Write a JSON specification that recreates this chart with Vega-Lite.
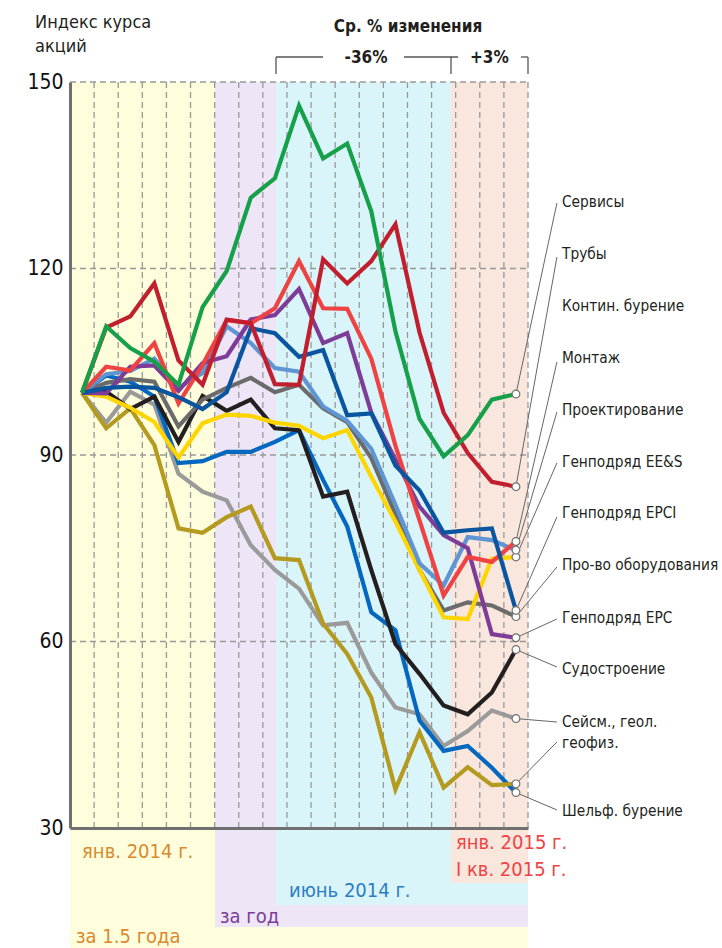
{
  "$schema": "https://vega.github.io/schema/vega-lite/v6.json",
  "width": 458,
  "height": 746,
  "autosize": {"type": "none"},
  "padding": {"left": 70, "top": 82, "right": 194, "bottom": 120},
  "background": "white",
  "config": {
    "view": {"stroke": null},
    "font": "DejaVu Sans Condensed, Liberation Sans Narrow, DejaVu Sans, sans-serif",
    "text": {"font": "DejaVu Sans Condensed, Liberation Sans Narrow, DejaVu Sans, sans-serif"},
    "axisX": {"labels": false, "ticks": false, "grid": false, "domain": true, "domainColor": "#707070", "domainWidth": 3, "zindex": 1},
    "axisY": {"grid": false, "ticks": false, "labelFontSize": 21, "labelColor": "#111111", "labelPadding": 7, "labelFont": "DejaVu Sans Condensed, DejaVu Sans, sans-serif", "domain": true, "domainColor": "#707070", "domainWidth": 3, "zindex": 1}
  },
  "resolve": {"scale": {"color": "independent", "fill": "independent"}},
  "datasets": {
    "bands": [
      {"b": "y", "x": -0.5, "x2": 18.5, "y": 5, "y2": 150},
      {"b": "p", "x": 5.515, "x2": 18.5, "y": 14.08, "y2": 150},
      {"b": "c", "x": 8.05, "x2": 18.5, "y": 17.62, "y2": 150},
      {"b": "k", "x": 15.3, "x2": 18.5, "y": 21.16, "y2": 150}
    ],
    "gridx": [{"g": 0.5}, {"g": 1.5}, {"g": 2.5}, {"g": 3.5}, {"g": 4.5}, {"g": 5.5}, {"g": 6.5}, {"g": 7.5}, {"g": 8.5}, {"g": 9.5}, {"g": 10.5}, {"g": 11.5}, {"g": 12.5}, {"g": 13.5}, {"g": 14.5}, {"g": 15.5}, {"g": 16.5}, {"g": 17.5}, {"g": 18.5}],
    "gridy": [{"g": 60}, {"g": 90}, {"g": 120}, {"g": 150}],
    "series": [
      {"s": "Сейсм., геол. геофиз.", "i": 0, "v": 100}, {"s": "Сейсм., геол. геофиз.", "i": 1, "v": 95.2}, {"s": "Сейсм., геол. геофиз.", "i": 2, "v": 100.2}, {"s": "Сейсм., геол. геофиз.", "i": 3, "v": 98.1}, {"s": "Сейсм., геол. геофиз.", "i": 4, "v": 87.0}, {"s": "Сейсм., геол. геофиз.", "i": 5, "v": 84.1}, {"s": "Сейсм., геол. геофиз.", "i": 6, "v": 82.7}, {"s": "Сейсм., геол. геофиз.", "i": 7, "v": 75.5}, {"s": "Сейсм., геол. геофиз.", "i": 8, "v": 71.5}, {"s": "Сейсм., геол. геофиз.", "i": 9, "v": 68.5}, {"s": "Сейсм., геол. геофиз.", "i": 10, "v": 62.6}, {"s": "Сейсм., геол. геофиз.", "i": 11, "v": 63.0}, {"s": "Сейсм., геол. геофиз.", "i": 12, "v": 55.0}, {"s": "Сейсм., геол. геофиз.", "i": 13, "v": 49.4}, {"s": "Сейсм., геол. геофиз.", "i": 14, "v": 48.3}, {"s": "Сейсм., геол. геофиз.", "i": 15, "v": 43.2}, {"s": "Сейсм., геол. геофиз.", "i": 16, "v": 45.6}, {"s": "Сейсм., геол. геофиз.", "i": 17, "v": 48.9}, {"s": "Сейсм., геол. геофиз.", "i": 18, "v": 47.6},
      {"s": "Шельф. бурение", "i": 0, "v": 100}, {"s": "Шельф. бурение", "i": 1, "v": 102.8}, {"s": "Шельф. бурение", "i": 2, "v": 101.8}, {"s": "Шельф. бурение", "i": 3, "v": 99.4}, {"s": "Шельф. бурение", "i": 4, "v": 88.7}, {"s": "Шельф. бурение", "i": 5, "v": 89.0}, {"s": "Шельф. бурение", "i": 6, "v": 90.5}, {"s": "Шельф. бурение", "i": 7, "v": 90.5}, {"s": "Шельф. бурение", "i": 8, "v": 92.1}, {"s": "Шельф. бурение", "i": 9, "v": 94.0}, {"s": "Шельф. бурение", "i": 10, "v": 86.0}, {"s": "Шельф. бурение", "i": 11, "v": 78.5}, {"s": "Шельф. бурение", "i": 12, "v": 64.7}, {"s": "Шельф. бурение", "i": 13, "v": 61.8}, {"s": "Шельф. бурение", "i": 14, "v": 47.3}, {"s": "Шельф. бурение", "i": 15, "v": 42.4}, {"s": "Шельф. бурение", "i": 16, "v": 43.2}, {"s": "Шельф. бурение", "i": 17, "v": 39.7}, {"s": "Шельф. бурение", "i": 18, "v": 35.7},
      {"s": "Контин. бурение", "i": 0, "v": 100}, {"s": "Контин. бурение", "i": 1, "v": 94.3}, {"s": "Контин. бурение", "i": 2, "v": 97.5}, {"s": "Контин. бурение", "i": 3, "v": 91.6}, {"s": "Контин. бурение", "i": 4, "v": 78.2}, {"s": "Контин. бурение", "i": 5, "v": 77.5}, {"s": "Контин. бурение", "i": 6, "v": 80.0}, {"s": "Контин. бурение", "i": 7, "v": 81.7}, {"s": "Контин. бурение", "i": 8, "v": 73.4}, {"s": "Контин. бурение", "i": 9, "v": 73.1}, {"s": "Контин. бурение", "i": 10, "v": 62.9}, {"s": "Контин. бурение", "i": 11, "v": 58.0}, {"s": "Контин. бурение", "i": 12, "v": 51.0}, {"s": "Контин. бурение", "i": 13, "v": 36.2}, {"s": "Контин. бурение", "i": 14, "v": 45.4}, {"s": "Контин. бурение", "i": 15, "v": 36.5}, {"s": "Контин. бурение", "i": 16, "v": 39.8}, {"s": "Контин. бурение", "i": 17, "v": 36.9}, {"s": "Контин. бурение", "i": 18, "v": 37.1},
      {"s": "Судостроение", "i": 0, "v": 100}, {"s": "Судостроение", "i": 1, "v": 100.2}, {"s": "Судостроение", "i": 2, "v": 97.4}, {"s": "Судостроение", "i": 3, "v": 99.4}, {"s": "Судостроение", "i": 4, "v": 92.1}, {"s": "Судостроение", "i": 5, "v": 99.5}, {"s": "Судостроение", "i": 6, "v": 97.1}, {"s": "Судостроение", "i": 7, "v": 98.9}, {"s": "Судостроение", "i": 8, "v": 94.3}, {"s": "Судостроение", "i": 9, "v": 94.0}, {"s": "Судостроение", "i": 10, "v": 83.3}, {"s": "Судостроение", "i": 11, "v": 84.1}, {"s": "Судостроение", "i": 12, "v": 71.5}, {"s": "Судостроение", "i": 13, "v": 59.6}, {"s": "Судостроение", "i": 14, "v": 54.8}, {"s": "Судостроение", "i": 15, "v": 49.7}, {"s": "Судостроение", "i": 16, "v": 48.3}, {"s": "Судостроение", "i": 17, "v": 51.8}, {"s": "Судостроение", "i": 18, "v": 58.7},
      {"s": "Про-во оборудования", "i": 0, "v": 100}, {"s": "Про-во оборудования", "i": 1, "v": 101.6}, {"s": "Про-во оборудования", "i": 2, "v": 102.2}, {"s": "Про-во оборудования", "i": 3, "v": 101.8}, {"s": "Про-во оборудования", "i": 4, "v": 94.6}, {"s": "Про-во оборудования", "i": 5, "v": 98.9}, {"s": "Про-во оборудования", "i": 6, "v": 100.8}, {"s": "Про-во оборудования", "i": 7, "v": 102.4}, {"s": "Про-во оборудования", "i": 8, "v": 100.1}, {"s": "Про-во оборудования", "i": 9, "v": 101.3}, {"s": "Про-во оборудования", "i": 10, "v": 97.5}, {"s": "Про-во оборудования", "i": 11, "v": 95.3}, {"s": "Про-во оборудования", "i": 12, "v": 89.5}, {"s": "Про-во оборудования", "i": 13, "v": 80.5}, {"s": "Про-во оборудования", "i": 14, "v": 71.5}, {"s": "Про-во оборудования", "i": 15, "v": 65.0}, {"s": "Про-во оборудования", "i": 16, "v": 66.3}, {"s": "Про-во оборудования", "i": 17, "v": 65.8}, {"s": "Про-во оборудования", "i": 18, "v": 64.0},
      {"s": "Генподряд EE&S", "i": 0, "v": 100}, {"s": "Генподряд EE&S", "i": 1, "v": 99.4}, {"s": "Генподряд EE&S", "i": 2, "v": 97.6}, {"s": "Генподряд EE&S", "i": 3, "v": 95.3}, {"s": "Генподряд EE&S", "i": 4, "v": 89.6}, {"s": "Генподряд EE&S", "i": 5, "v": 95.1}, {"s": "Генподряд EE&S", "i": 6, "v": 96.5}, {"s": "Генподряд EE&S", "i": 7, "v": 96.3}, {"s": "Генподряд EE&S", "i": 8, "v": 95.2}, {"s": "Генподряд EE&S", "i": 9, "v": 94.7}, {"s": "Генподряд EE&S", "i": 10, "v": 92.7}, {"s": "Генподряд EE&S", "i": 11, "v": 94.0}, {"s": "Генподряд EE&S", "i": 12, "v": 86.5}, {"s": "Генподряд EE&S", "i": 13, "v": 79.3}, {"s": "Генподряд EE&S", "i": 14, "v": 71.5}, {"s": "Генподряд EE&S", "i": 15, "v": 63.9}, {"s": "Генподряд EE&S", "i": 16, "v": 63.6}, {"s": "Генподряд EE&S", "i": 17, "v": 73.3}, {"s": "Генподряд EE&S", "i": 18, "v": 73.6},
      {"s": "Проектирование", "i": 0, "v": 100}, {"s": "Проектирование", "i": 1, "v": 103.0}, {"s": "Проектирование", "i": 2, "v": 103.5}, {"s": "Проектирование", "i": 3, "v": 105.5}, {"s": "Проектирование", "i": 4, "v": 100.8}, {"s": "Проектирование", "i": 5, "v": 103.2}, {"s": "Проектирование", "i": 6, "v": 110.7}, {"s": "Проектирование", "i": 7, "v": 108.0}, {"s": "Проектирование", "i": 8, "v": 104.0}, {"s": "Проектирование", "i": 9, "v": 103.4}, {"s": "Проектирование", "i": 10, "v": 97.8}, {"s": "Проектирование", "i": 11, "v": 95.5}, {"s": "Проектирование", "i": 12, "v": 91.0}, {"s": "Проектирование", "i": 13, "v": 82.0}, {"s": "Проектирование", "i": 14, "v": 72.6}, {"s": "Проектирование", "i": 15, "v": 69.0}, {"s": "Проектирование", "i": 16, "v": 76.8}, {"s": "Проектирование", "i": 17, "v": 76.3}, {"s": "Проектирование", "i": 18, "v": 74.7},
      {"s": "Генподряд EPC", "i": 0, "v": 100}, {"s": "Генподряд EPC", "i": 1, "v": 99.9}, {"s": "Генподряд EPC", "i": 2, "v": 104.2}, {"s": "Генподряд EPC", "i": 3, "v": 104.4}, {"s": "Генподряд EPC", "i": 4, "v": 100.3}, {"s": "Генподряд EPC", "i": 5, "v": 104.8}, {"s": "Генподряд EPC", "i": 6, "v": 105.9}, {"s": "Генподряд EPC", "i": 7, "v": 111.8}, {"s": "Генподряд EPC", "i": 8, "v": 112.5}, {"s": "Генподряд EPC", "i": 9, "v": 116.7}, {"s": "Генподряд EPC", "i": 10, "v": 108.0}, {"s": "Генподряд EPC", "i": 11, "v": 109.6}, {"s": "Генподряд EPC", "i": 12, "v": 96.8}, {"s": "Генподряд EPC", "i": 13, "v": 89.3}, {"s": "Генподряд EPC", "i": 14, "v": 81.7}, {"s": "Генподряд EPC", "i": 15, "v": 77.1}, {"s": "Генподряд EPC", "i": 16, "v": 75.0}, {"s": "Генподряд EPC", "i": 17, "v": 61.2}, {"s": "Генподряд EPC", "i": 18, "v": 60.6},
      {"s": "Монтаж", "i": 0, "v": 100}, {"s": "Монтаж", "i": 1, "v": 104.2}, {"s": "Монтаж", "i": 2, "v": 103.6}, {"s": "Монтаж", "i": 3, "v": 108.0}, {"s": "Монтаж", "i": 4, "v": 98.3}, {"s": "Монтаж", "i": 5, "v": 104.5}, {"s": "Монтаж", "i": 6, "v": 111.7}, {"s": "Монтаж", "i": 7, "v": 111.2}, {"s": "Монтаж", "i": 8, "v": 113.6}, {"s": "Монтаж", "i": 9, "v": 121.2}, {"s": "Монтаж", "i": 10, "v": 113.6}, {"s": "Монтаж", "i": 11, "v": 113.5}, {"s": "Монтаж", "i": 12, "v": 105.5}, {"s": "Монтаж", "i": 13, "v": 91.5}, {"s": "Монтаж", "i": 14, "v": 79.5}, {"s": "Монтаж", "i": 15, "v": 67.4}, {"s": "Монтаж", "i": 16, "v": 73.6}, {"s": "Монтаж", "i": 17, "v": 72.8}, {"s": "Монтаж", "i": 18, "v": 76.1},
      {"s": "Генподряд EPCI", "i": 0, "v": 100}, {"s": "Генподряд EPCI", "i": 1, "v": 100.8}, {"s": "Генподряд EPCI", "i": 2, "v": 101.0}, {"s": "Генподряд EPCI", "i": 3, "v": 100.8}, {"s": "Генподряд EPCI", "i": 4, "v": 99.3}, {"s": "Генподряд EPCI", "i": 5, "v": 97.4}, {"s": "Генподряд EPCI", "i": 6, "v": 100.1}, {"s": "Генподряд EPCI", "i": 7, "v": 110.4}, {"s": "Генподряд EPCI", "i": 8, "v": 109.6}, {"s": "Генподряд EPCI", "i": 9, "v": 105.8}, {"s": "Генподряд EPCI", "i": 10, "v": 106.9}, {"s": "Генподряд EPCI", "i": 11, "v": 96.4}, {"s": "Генподряд EPCI", "i": 12, "v": 96.7}, {"s": "Генподряд EPCI", "i": 13, "v": 88.3}, {"s": "Генподряд EPCI", "i": 14, "v": 84.3}, {"s": "Генподряд EPCI", "i": 15, "v": 77.5}, {"s": "Генподряд EPCI", "i": 16, "v": 77.9}, {"s": "Генподряд EPCI", "i": 17, "v": 78.2}, {"s": "Генподряд EPCI", "i": 18, "v": 65.0},
      {"s": "Трубы", "i": 0, "v": 100}, {"s": "Трубы", "i": 1, "v": 110.5}, {"s": "Трубы", "i": 2, "v": 112.3}, {"s": "Трубы", "i": 3, "v": 117.6}, {"s": "Трубы", "i": 4, "v": 105.2}, {"s": "Трубы", "i": 5, "v": 101.3}, {"s": "Трубы", "i": 6, "v": 111.8}, {"s": "Трубы", "i": 7, "v": 111.2}, {"s": "Трубы", "i": 8, "v": 101.4}, {"s": "Трубы", "i": 9, "v": 101.3}, {"s": "Трубы", "i": 10, "v": 121.5}, {"s": "Трубы", "i": 11, "v": 117.6}, {"s": "Трубы", "i": 12, "v": 121.2}, {"s": "Трубы", "i": 13, "v": 127.1}, {"s": "Трубы", "i": 14, "v": 109.7}, {"s": "Трубы", "i": 15, "v": 96.8}, {"s": "Трубы", "i": 16, "v": 90.3}, {"s": "Трубы", "i": 17, "v": 85.7}, {"s": "Трубы", "i": 18, "v": 84.9},
      {"s": "Сервисы", "i": 0, "v": 100}, {"s": "Сервисы", "i": 1, "v": 110.7}, {"s": "Сервисы", "i": 2, "v": 107.2}, {"s": "Сервисы", "i": 3, "v": 105.0}, {"s": "Сервисы", "i": 4, "v": 101.3}, {"s": "Сервисы", "i": 5, "v": 113.8}, {"s": "Сервисы", "i": 6, "v": 119.6}, {"s": "Сервисы", "i": 7, "v": 131.4}, {"s": "Сервисы", "i": 8, "v": 134.5}, {"s": "Сервисы", "i": 9, "v": 146.2}, {"s": "Сервисы", "i": 10, "v": 137.7}, {"s": "Сервисы", "i": 11, "v": 140.1}, {"s": "Сервисы", "i": 12, "v": 129.2}, {"s": "Сервисы", "i": 13, "v": 109.9}, {"s": "Сервисы", "i": 14, "v": 95.8}, {"s": "Сервисы", "i": 15, "v": 89.8}, {"s": "Сервисы", "i": 16, "v": 93.2}, {"s": "Сервисы", "i": 17, "v": 98.9}, {"s": "Сервисы", "i": 18, "v": 99.8}
    ],
    "leaders": [
      {"s": "Сервисы", "v": 99.8, "t": 130.54},
      {"s": "Трубы", "v": 84.9, "t": 121.85},
      {"s": "Монтаж", "v": 76.1, "t": 104.96},
      {"s": "Проектирование", "v": 74.7, "t": 96.92},
      {"s": "Генподряд EE&S", "v": 73.6, "t": 88.72},
      {"s": "Генподряд EPCI", "v": 65.0, "t": 80.03},
      {"s": "Про-во оборудования", "v": 64.0, "t": 71.99},
      {"s": "Генподряд EPC", "v": 60.6, "t": 63.62},
      {"s": "Судостроение", "v": 58.7, "t": 55.9},
      {"s": "Сейсм., геол. геофиз.", "v": 47.6, "t": 47.05},
      {"s": "Контин. бурение", "v": 37.1, "t": 43.84},
      {"s": "Шельф. бурение", "v": 35.7, "t": 32.9}
    ],
    "labels": [
      {"label": "Сервисы", "y": 130.7},
      {"label": "Трубы", "y": 122.33},
      {"label": "Контин. бурение", "y": 113.97},
      {"label": "Монтаж", "y": 105.61},
      {"label": "Проектирование", "y": 97.24},
      {"label": "Генподряд EE&S", "y": 88.88},
      {"label": "Генподряд EPCI", "y": 80.67},
      {"label": "Про-во оборудования", "y": 72.31},
      {"label": "Генподряд EPC", "y": 63.78},
      {"label": "Судостроение", "y": 55.58},
      {"label": "Сейсм., геол.", "y": 47.05},
      {"label": "геофиз.", "y": 43.67},
      {"label": "Шельф. бурение", "y": 32.74}
    ],
    "head": [
      {"t": "Индекс курса", "x": -1.95, "y": 158.69},
      {"t": "акций", "x": -1.95, "y": 154.83}
    ],
    "headBold": [
      {"t": "Ср. % изменения", "x": 13.52, "y": 158.04},
      {"t": "-36%", "x": 11.78, "y": 153.06},
      {"t": "+3%", "x": 16.9, "y": 153.06}
    ],
    "bracket": [
      {"x": 8.046, "x2": 8.046, "y": 151.29, "y2": 154.02},
      {"x": 8.046, "x2": 9.996, "y": 154.02, "y2": 154.02},
      {"x": 13.356, "x2": 15.6, "y": 154.02, "y2": 154.02},
      {"x": 15.306, "x2": 15.306, "y": 151.29, "y2": 154.02},
      {"x": 18.21, "x2": 18.5, "y": 154.02, "y2": 154.02},
      {"x": 18.5, "x2": 18.5, "y": 151.29, "y2": 154.02}
    ],
    "periods": [
      {"t": "янв. 2014 г.", "x": 0.0, "y": 26.15, "c": "o"},
      {"t": "янв. 2015 г.", "x": 15.51, "y": 27.6, "c": "r"},
      {"t": "I кв. 2015 г.", "x": 15.51, "y": 23.25, "c": "r"},
      {"t": "июнь 2014 г.", "x": 8.585, "y": 19.88, "c": "b"},
      {"t": "за год", "x": 5.72, "y": 15.69, "c": "p"},
      {"t": "за 1.5 года", "x": -0.25, "y": 12.47, "c": "o"}
    ]
  },
  "layer": [
    {
      "data": {"name": "bands"},
      "mark": {"type": "rect"},
      "encoding": {
        "x": {"field": "x", "type": "quantitative", "title": null, "scale": {"domain": [-0.5, 18.5], "nice": false, "zero": false},
          "axis": {"orient": "bottom", "labels": false, "ticks": false, "grid": false, "title": null, "domain": true, "domainColor": "#707070", "domainWidth": 3, "zindex": 1}},
        "x2": {"field": "x2"},
        "y": {"field": "y", "type": "quantitative", "title": null, "scale": {"domain": [30, 150], "nice": false, "zero": false},
          "axis": {"orient": "left", "values": [30, 60, 90, 120, 150], "grid": false, "ticks": false, "title": null, "domain": true, "domainColor": "#707070", "domainWidth": 3, "zindex": 1}},
        "y2": {"field": "y2"},
        "fill": {"field": "b", "type": "nominal", "scale": {"domain": ["y", "p", "c", "k"], "range": ["#FEFEDC", "#EEE5F6", "#D9F5F9", "#F9E6DC"]}, "legend": null}
      }
    },
    {
      "data": {"name": "gridx"},
      "mark": {"type": "rule", "color": "#999999", "strokeWidth": 1.3, "strokeDash": [6, 4]},
      "encoding": {
        "x": {"field": "g", "type": "quantitative", "title": null},
        "y": {"datum": 30, "type": "quantitative", "title": null},
        "y2": {"datum": 150}
      }
    },
    {
      "data": {"name": "gridy"},
      "mark": {"type": "rule", "color": "#999999", "strokeWidth": 1.3, "strokeDash": [6, 4]},
      "encoding": {
        "y": {"field": "g", "type": "quantitative", "title": null},
        "x": {"datum": -0.5, "type": "quantitative", "title": null},
        "x2": {"datum": 18.5}
      }
    },
    {
      "data": {"name": "series"},
      "mark": {"type": "line", "strokeWidth": 4.2, "strokeJoin": "miter"},
      "encoding": {
        "x": {"field": "i", "type": "quantitative", "title": null},
        "y": {"field": "v", "type": "quantitative", "title": null},
        "color": {"field": "s", "type": "nominal", "legend": null,
          "scale": {"domain": ["Сейсм., геол. геофиз.", "Шельф. бурение", "Контин. бурение", "Судостроение", "Про-во оборудования", "Генподряд EE&S", "Проектирование", "Генподряд EPC", "Монтаж", "Генподряд EPCI", "Трубы", "Сервисы"],
            "range": ["#9A9A9A", "#0467C0", "#B49A1F", "#231F20", "#6B6B6B", "#FFD500", "#5E95D2", "#7D3C98", "#EF4242", "#0A55A0", "#C11F2E", "#16A04A"]}}
      }
    },
    {
      "data": {"name": "leaders"},
      "mark": {"type": "rule", "color": "#666666", "strokeWidth": 1},
      "encoding": {
        "x": {"datum": 18, "type": "quantitative", "title": null},
        "x2": {"datum": 19.7},
        "y": {"field": "v", "type": "quantitative", "title": null},
        "y2": {"field": "t"}
      }
    },
    {
      "data": {"name": "series"},
      "transform": [{"filter": "datum.i == 18"}],
      "mark": {"type": "point", "filled": true, "fill": "white", "stroke": "#707070", "strokeWidth": 1.2, "size": 60, "opacity": 1},
      "encoding": {
        "x": {"field": "i", "type": "quantitative", "title": null},
        "y": {"field": "v", "type": "quantitative", "title": null}
      }
    },
    {
      "data": {"name": "labels"},
      "mark": {"type": "text", "align": "left", "baseline": "middle", "fontSize": 15.3, "color": "#231F20"},
      "encoding": {
        "x": {"datum": 19.91, "type": "quantitative", "title": null},
        "y": {"field": "y", "type": "quantitative", "title": null},
        "text": {"field": "label"}
      }
    },
    {
      "data": {"name": "head"},
      "mark": {"type": "text", "align": "left", "baseline": "alphabetic", "fontSize": 18, "color": "#231F20"},
      "encoding": {
        "x": {"field": "x", "type": "quantitative", "title": null},
        "y": {"field": "y", "type": "quantitative", "title": null},
        "text": {"field": "t"}
      }
    },
    {
      "data": {"name": "headBold"},
      "mark": {"type": "text", "align": "center", "baseline": "alphabetic", "fontSize": 17, "fontWeight": "bold", "color": "#231F20"},
      "encoding": {
        "x": {"field": "x", "type": "quantitative", "title": null},
        "y": {"field": "y", "type": "quantitative", "title": null},
        "text": {"field": "t"}
      }
    },
    {
      "data": {"name": "bracket"},
      "mark": {"type": "rule", "color": "#555555", "strokeWidth": 1.3},
      "encoding": {
        "x": {"field": "x", "type": "quantitative", "title": null},
        "x2": {"field": "x2"},
        "y": {"field": "y", "type": "quantitative", "title": null},
        "y2": {"field": "y2"}
      }
    },
    {
      "data": {"name": "periods"},
      "mark": {"type": "text", "align": "left", "baseline": "middle", "fontSize": 20},
      "encoding": {
        "x": {"field": "x", "type": "quantitative", "title": null},
        "y": {"field": "y", "type": "quantitative", "title": null},
        "text": {"field": "t"},
        "color": {"field": "c", "type": "nominal", "legend": null, "scale": {"domain": ["o", "r", "b", "p"], "range": ["#D9892E", "#EE4444", "#2C7DC3", "#7B3F98"]}}
      }
    }
  ]
}
